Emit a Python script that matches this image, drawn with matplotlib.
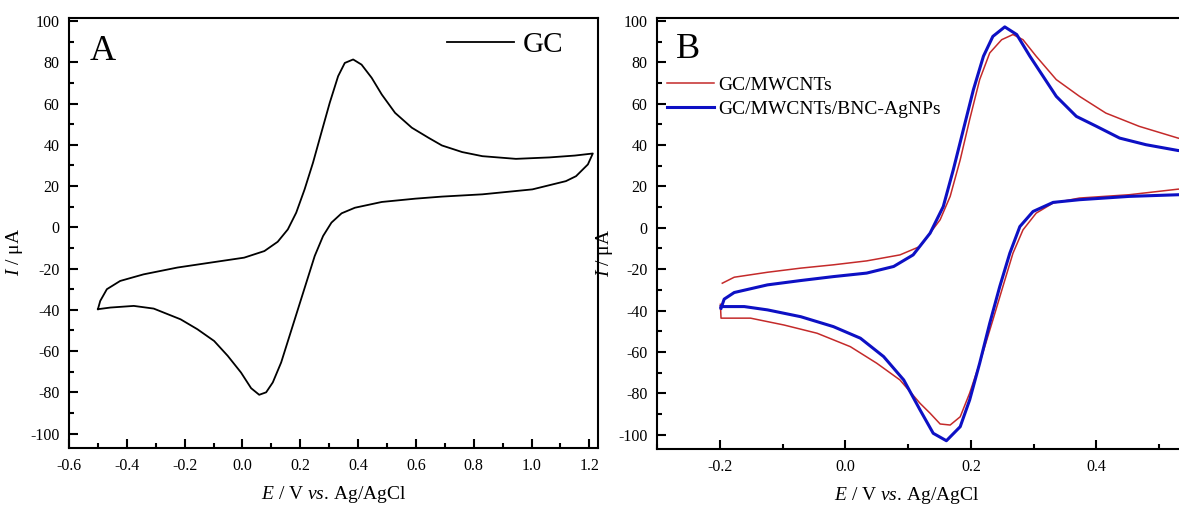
import matplotlib
matplotlib.use('Agg')
import matplotlib.pyplot as plt

plt.rcParams['font.family'] = ['Liberation Serif', 'DejaVu Serif']
plt.rcParams['mathtext.fontset'] = 'custom'
plt.rcParams['mathtext.rm'] = 'Liberation Serif'
plt.rcParams['mathtext.it'] = 'Liberation Serif:italic'
plt.rcParams['axes.unicode_minus'] = False
plt.rcParams['lines.solid_joinstyle'] = 'round'

# GC electrode: forward scan from -0.5 V, then back
gc_E = [-0.500, -0.492, -0.469, -0.423, -0.342, -0.225, -0.110, 0.006, 0.076, 0.122, 0.157,
        0.186, 0.215, 0.244, 0.273, 0.302, 0.331, 0.354, 0.383, 0.412, 0.447, 0.482, 0.528,
        0.586, 0.644, 0.690, 0.760, 0.830, 0.946, 1.062, 1.150, 1.212,
        1.195, 1.154, 1.119, 1.003, 0.830, 0.690, 0.598, 0.482, 0.389, 0.343, 0.308, 0.279,
        0.250, 0.221, 0.192, 0.163, 0.134, 0.105, 0.082, 0.058, 0.030, -0.005, -0.051,
        -0.098, -0.156, -0.214, -0.307, -0.376, -0.457, -0.500]
gc_I = [-39.7, -35.7, -30.0, -26.0, -22.8, -19.5, -17.1, -14.7, -11.5, -7.0, -1.0,
        7.1, 18.4, 31.3, 45.9, 60.4, 73.3, 79.7, 81.4, 78.9, 72.5, 64.4, 55.5,
        48.3, 43.4, 39.7, 36.5, 34.5, 33.2, 33.9, 34.8, 35.8,
        30.5, 24.8, 22.4, 18.4, 16.0, 14.9, 13.9, 12.3, 9.5, 6.8, 2.3, -4.2,
        -13.9, -26.8, -39.7, -52.6, -65.5, -75.2, -80.0, -81.2, -78.0, -70.4, -62.3,
        -55.1, -49.4, -44.6, -39.4, -38.1, -38.9, -39.7]

# GC/MWCNTs
mw_E = [-0.196, -0.177, -0.124, -0.071, -0.019, 0.034, 0.087, 0.119, 0.151, 0.167, 0.183,
        0.198, 0.214, 0.230, 0.249, 0.267, 0.283, 0.304, 0.336, 0.373, 0.415, 0.468, 0.530, 0.550,
        0.550, 0.530, 0.452, 0.373, 0.331, 0.304, 0.283, 0.267, 0.251, 0.235, 0.214, 0.198,
        0.183, 0.167, 0.151, 0.135, 0.119, 0.087, 0.050, 0.008, -0.045, -0.098, -0.151,
        -0.198, -0.199]
mw_I = [-26.8, -23.9, -21.5, -19.5, -17.9, -16.0, -13.1, -9.0, 3.9, 15.2, 32.9,
        52.3, 71.7, 84.6, 91.0, 93.5, 91.0, 83.0, 71.7, 63.6, 55.5, 49.1, 43.4, 42.0,
        18.9, 18.7, 16.0, 14.4, 12.0, 7.1, -1.0, -12.3, -28.4, -44.6, -65.5, -80.0,
        -91.4, -95.4, -94.9, -89.7, -84.9, -73.6, -65.5, -57.5, -51.0, -47.0, -43.7,
        -43.7, -37.0]

# GC/MWCNTs/BNC-AgNPs
ag_E = [-0.198, -0.193, -0.177, -0.124, -0.071, -0.019, 0.034, 0.077, 0.108, 0.135, 0.156,
        0.172, 0.188, 0.204, 0.220, 0.235, 0.254, 0.273, 0.294, 0.315, 0.336, 0.368, 0.400,
        0.437, 0.479, 0.530, 0.550,
        0.550, 0.530, 0.452, 0.373, 0.331, 0.299, 0.278, 0.262, 0.246, 0.230, 0.214, 0.198,
        0.183, 0.161, 0.140, 0.119, 0.093, 0.061, 0.024, -0.019, -0.071, -0.124, -0.161,
        -0.198]
ag_I = [-38.9, -34.5, -31.3, -27.6, -25.5, -23.6, -21.9, -18.7, -13.1, -2.6, 10.3,
        28.1, 47.5, 66.8, 83.0, 92.6, 97.2, 93.5, 83.0, 73.3, 63.6, 53.9, 49.1,
        43.4, 40.2, 37.4, 37.0,
        16.1, 16.0, 15.2, 13.6, 12.3, 7.9, 0.6, -12.3, -28.4, -46.2, -65.5, -83.3,
        -96.2, -103.0, -99.4, -88.1, -73.6, -62.3, -53.4, -47.8, -43.0, -39.7, -38.1,
        -38.1]

W, H = 1179, 505
fig = plt.figure(figsize=(W / 100, H / 100), dpi=100)

axA = fig.add_axes([69 / W, (H - 448) / H, 529 / W, 430 / H])
axB = fig.add_axes([657 / W, (H - 449) / H, 565 / W, 431 / H])


def style(ax):
    for s in ax.spines.values():
        s.set_linewidth(1.5)
    ax.tick_params(which='both', direction='in', top=False, right=False,
                   labelsize=11.5, pad=7, width=1.5)
    ax.tick_params(which='major', length=6.5)
    ax.tick_params(which='minor', length=3.5)
    ax.set_ylim(-107, 101.5)
    ax.set_yticks(range(-100, 101, 20))
    ax.set_yticks(range(-100, 101, 10), minor=True)


xlabel = r'$E$ / V $vs$. Ag/AgCl'
ylabel = r'$I$ / μA'

# panel A
axA.plot(gc_E, gc_I, color='black', lw=1.3, label='GC')
style(axA)
axA.set_xlim(-0.6, 1.23)
axA.set_xticks([-0.6, -0.4, -0.2, 0.0, 0.2, 0.4, 0.6, 0.8, 1.0, 1.2])
axA.set_xticks([x / 10 for x in range(-6, 13)], minor=True)
axA.set_xticklabels(['-0.6', '-0.4', '-0.2', '0.0', '0.2', '0.4', '0.6', '0.8', '1.0', '1.2'])
axA.set_xlabel(xlabel, fontsize=14)
axA.xaxis.set_label_coords(0.5, -0.083)
axA.set_ylabel(ylabel, fontsize=14)
axA.yaxis.set_label_coords(-0.083, 0.456)
axA.text(90 / W, 1 - 60 / H, 'A', transform=fig.transFigure, fontsize=26, va='baseline')
axA.legend(loc='center left', bbox_to_anchor=((447 - 69) / 529, (448 - 45) / 430),
           frameon=False, fontsize=21, handlelength=2.3, handletextpad=0.28,
           borderpad=0, borderaxespad=0)

# panel B
axB.plot(mw_E, mw_I, color='#c42a2a', lw=1.1, label='GC/MWCNTs')
axB.plot(ag_E, ag_I, color='#0d10c4', lw=2.2, label='GC/MWCNTs/BNC-AgNPs')
style(axB)
axB.spines['right'].set_visible(False)
axB.set_xlim(-0.3, 0.6)
axB.set_xticks([-0.2, 0.0, 0.2, 0.4])
axB.set_xticks([-0.3, -0.2, -0.1, 0.0, 0.1, 0.2, 0.3, 0.4, 0.5], minor=True)
axB.set_xticklabels(['-0.2', '0.0', '0.2', '0.4'])
axB.set_xlabel(xlabel, fontsize=14)
axB.xaxis.set_label_coords((907 - 657) / 565, -0.083)
axB.set_ylabel(ylabel, fontsize=14)
axB.yaxis.set_label_coords(-0.074, 0.456)
axB.text(676 / W, 1 - 58 / H, 'B', transform=fig.transFigure, fontsize=26, va='baseline')
axB.legend(loc='center left', bbox_to_anchor=((667 - 657) / 565, (449 - 97) / 431),
           frameon=False, fontsize=14, handlelength=2.4, handletextpad=0.25,
           labelspacing=0.3, borderpad=0, borderaxespad=0)

fig.savefig('out.png', dpi=100)
